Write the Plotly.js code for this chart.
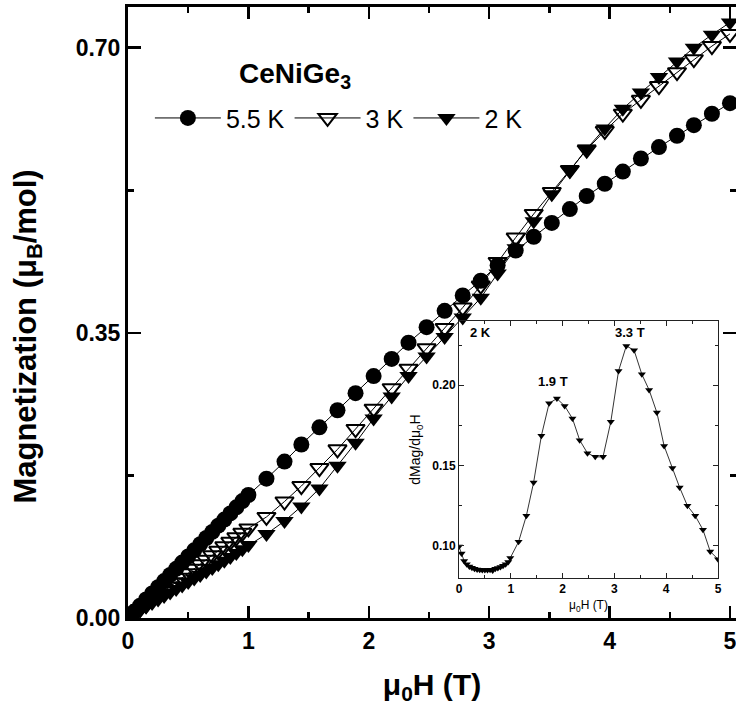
<!DOCTYPE html>
<html>
<head>
<meta charset="utf-8">
<script src="https://cdn.plot.ly/plotly-3.0.1.min.js"></script>
<style>html,body{margin:0;padding:0;background:#fff;}#chart{width:736px;height:719px;}</style>
</head>
<body>
<div id="chart"></div>
<script>
// ---- data ----
const field = [0,0.05,0.10,0.15,0.20,0.25,0.30,0.35,0.40,0.45,0.50,0.55,0.60,0.65,0.70,0.75,0.80,0.85,0.90,0.95,1.00,
  1.15,1.30,1.44,1.59,1.74,1.89,2.04,2.19,2.33,2.48,2.63,2.78,2.93,3.07,3.22,3.37,3.52,3.67,3.81,3.96,4.11,4.26,4.41,4.56,4.70,4.85,5.00];
const m55K = [0,0.0076,0.0151,0.0227,0.0302,0.0378,0.0453,0.0529,0.0604,0.0680,0.0755,0.0831,0.0906,0.0982,0.1057,0.1133,0.1208,0.1284,0.1359,0.1435,0.1510,
  0.171,0.192,0.213,0.234,0.255,0.276,0.297,0.318,0.338,0.357,0.377,0.396,0.414,0.433,0.451,0.468,0.485,0.502,0.518,0.533,0.548,0.564,0.578,0.592,0.605,0.619,0.632];
const m3K = [0,0.0055,0.0110,0.0165,0.0220,0.0275,0.0330,0.0385,0.0440,0.0495,0.0550,0.0605,0.0660,0.0715,0.0770,0.0825,0.0880,0.0935,0.0990,0.1045,0.1100,
  0.124,0.143,0.162,0.184,0.207,0.232,0.257,0.282,0.306,0.331,0.356,0.381,0.408,0.437,0.467,0.496,0.523,0.550,0.575,0.598,0.619,0.636,0.653,0.670,0.686,0.702,0.717];
const m2K = [0,0.0049,0.0095,0.0139,0.0183,0.0226,0.0269,0.0312,0.0355,0.0398,0.0441,0.0484,0.0527,0.0571,0.0615,0.0659,0.0704,0.0750,0.0797,0.0845,0.0895,
  0.103,0.119,0.137,0.159,0.187,0.215,0.245,0.272,0.297,0.321,0.345,0.369,0.393,0.423,0.454,0.487,0.520,0.549,0.576,0.601,0.625,0.645,0.664,0.683,0.700,0.716,0.731];
const seriesNames = ['5.5 K','3 K','2 K'];

// inset: dMag/dμ0H at 2 K
const insetField = [0,0.05,0.10,0.15,0.20,0.25,0.30,0.35,0.40,0.45,0.50,0.55,0.60,0.65,0.70,0.75,0.80,0.85,0.90,0.95,0.99,
  1.15,1.30,1.44,1.59,1.74,1.89,2.04,2.19,2.33,2.48,2.63,2.78,2.93,3.08,3.23,3.38,3.53,3.67,3.82,3.96,4.12,4.26,4.41,4.56,4.71,4.85,5.00];
const dMdH2K = [0.0996,0.0952,0.0905,0.0885,0.0872,0.0863,0.0857,0.0853,0.0851,0.0850,0.0849,0.0850,0.0851,0.0847,0.0857,0.0862,0.0868,0.0876,0.0886,0.0899,0.0925,
  0.1025,0.1187,0.1394,0.1685,0.1888,0.1917,0.1871,0.1793,0.1658,0.1577,0.1554,0.1554,0.1772,0.2089,0.2245,0.2218,0.2068,0.1971,0.1830,0.1622,0.1485,0.1363,0.1249,0.1187,0.1100,0.0965,0.0917];
const insetLabels = [{t:'2 K', x:0.42, y:0.233},{t:'1.9 T', x:1.81, y:0.2025},{t:'3.3 T', x:3.30, y:0.233}];

// ---- chart ----
const FF = 'Liberation Sans, Arial, sans-serif';
const traces = [
  {x: field, y: m55K, name: seriesNames[0], type:'scatter', mode:'lines+markers',
   line:{color:'#000', width:1}, marker:{symbol:'circle', size:16, color:'#000', line:{width:0}}},
  {x: field, y: m3K, name: seriesNames[1], type:'scatter', mode:'lines+markers',
   line:{color:'#000', width:1}, marker:{symbol:'triangle-down-open', size:16, color:'#000', line:{width:2, color:'#000'}}},
  {x: field, y: m2K, name: seriesNames[2], type:'scatter', mode:'lines+markers',
   line:{color:'#000', width:1}, marker:{symbol:'triangle-down', size:16, color:'#000', line:{width:0}}},
  {x: insetField, y: dMdH2K, xaxis:'x2', yaxis:'y2', type:'scatter', mode:'lines+markers', showlegend:false,
   line:{color:'#000', width:0.8}, marker:{symbol:'triangle-down', size:7, color:'#000', line:{width:0}}}
];

const layout = {
  width:736, height:719,
  margin:{l:128, r:0, t:7, b:101},
  paper_bgcolor:'#fff', plot_bgcolor:'rgba(0,0,0,0)',
  font:{family:FF, color:'#000'},
  showlegend:true,
  legend:{orientation:'h', x:0.036, xanchor:'left', y:0.818, yanchor:'middle',
    font:{family:FF, size:25, color:'#000'}, itemwidth:66, bgcolor:'rgba(0,0,0,0)', borderwidth:0, traceorder:'normal'},
  xaxis:{range:[0,5.05], dtick:1, tick0:0, showgrid:false, zeroline:false,
    showline:true, linewidth:3, linecolor:'#000', mirror:'ticks',
    ticks:'inside', ticklen:12, tickwidth:2.5, tickcolor:'#000', ticklabeloverflow:'allow',
    minor:{dtick:0.5, ticks:'inside', ticklen:6, tickwidth:2.5, tickcolor:'#000', showgrid:false},
    tickfont:{family:FF, size:23, weight:'bold'}, automargin:false,
    title:{text:'μ<sub>0</sub>H (T)', font:{family:FF, size:30, weight:'bold'}, standoff:22}},
  yaxis:{range:[0,0.75], dtick:0.35, tick0:0, tickformat:'.2f', showgrid:false, zeroline:false,
    showline:true, linewidth:3, linecolor:'#000', mirror:'ticks',
    ticks:'inside', ticklen:13, tickwidth:2.5, tickcolor:'#000',
    minor:{dtick:0.175, ticks:'inside', ticklen:6, tickwidth:2.5, tickcolor:'#000', showgrid:false},
    tickfont:{family:FF, size:23, weight:'bold'}, automargin:false},
  xaxis2:{domain:[0.5444,0.9704], anchor:'y2', range:[0,5], dtick:1, tick0:0, showgrid:false, zeroline:false,
    showline:true, linewidth:1, linecolor:'#222', mirror:'ticks',
    ticks:'inside', ticklen:5, tickwidth:1, tickcolor:'#222',
    minor:{dtick:0.5, ticks:'inside', ticklen:3, tickwidth:1, tickcolor:'#222', showgrid:false},
    tickfont:{family:FF, size:12, weight:'bold'}, automargin:false,
    title:{text:'μ<sub>0</sub>H (T)', font:{family:FF, size:12}, standoff:5}},
  yaxis2:{domain:[0.0655,0.4861], anchor:'x2', range:[0.08,0.24], dtick:0.05, tick0:0, tickformat:'.2f', showgrid:false, zeroline:false,
    showline:true, linewidth:1, linecolor:'#222', mirror:'ticks',
    ticks:'inside', ticklen:5, tickwidth:1, tickcolor:'#222',
    minor:{dtick:0.025, ticks:'inside', ticklen:3, tickwidth:1, tickcolor:'#222', showgrid:false},
    tickfont:{family:FF, size:12, weight:'bold'}, automargin:false,
    title:{text:'dMag/dμ<sub>0</sub>H', font:{family:FF, size:14}, standoff:8}},
  annotations:[
    {text:'Magnetization (μ<sub>B</sub>/mol)', xref:'paper', yref:'paper', x:-0.165, y:0.46, xanchor:'center', yanchor:'middle',
     textangle:-90, showarrow:false, font:{family:FF, size:31, weight:'bold'}},
    {text:'CeNiGe<sub>3</sub>', xref:'paper', yref:'paper', x:0.18, y:0.888, xanchor:'left', yanchor:'middle',
     showarrow:false, font:{family:FF, size:28, weight:'bold'}}
  ].concat(insetLabels.map(a => ({text:a.t, xref:'x2', yref:'y2', x:a.x, y:a.y, xanchor:'center', yanchor:'middle',
     showarrow:false, font:{family:FF, size:13, weight:'bold'}})))
};

Plotly.newPlot('chart', traces, layout, {displayModeBar:false, staticPlot:true});
</script>
</body>
</html>
